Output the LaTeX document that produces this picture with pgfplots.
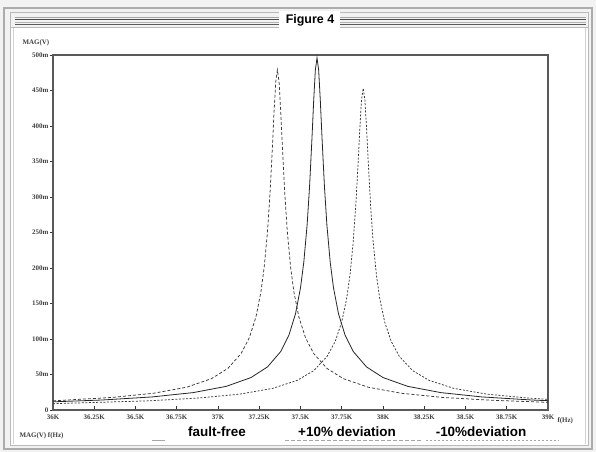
\documentclass[border=0pt]{standalone}
\usepackage{fontspec}
\setmainfont{Liberation Sans}
\newfontfamily\tickfont{Liberation Serif}
\usepackage{pgfplots}
\pgfplotsset{compat=1.18}
\pgfplotstableread{
f v
36000 11.5
36300 14.1
36600 18.4
36850 24.5
37050 33.3
37200 45.7
37300 60.7
37380 82.3
37430 105.5
37470 135.8
37500 172.1
37520 208.2
37540 260.4
37555 315.0
37570 385.3
37580 436.3
37590 478.8
37600 496
37610 478.8
37620 436.3
37630 385.3
37645 315.0
37660 260.4
37680 208.2
37700 172.1
37730 135.8
37770 105.5
37820 82.3
37900 60.7
38000 45.7
38150 33.3
38350 24.5
38600 18.4
38900 14.1
39000 13.1
}\faultfree
\pgfplotstableread{
f v
36000 13.0
36060 13.7
36360 17.7
36610 23.6
36810 32.1
36960 44.1
37060 58.6
37140 79.5
37190 101.9
37230 131.1
37260 166.2
37280 201.1
37300 251.4
37315 304.2
37330 372.1
37340 421.4
37350 462.4
37360 479
37370 462.4
37380 421.4
37390 372.1
37405 304.2
37420 251.4
37440 201.1
37460 166.2
37490 131.1
37530 101.9
37580 79.5
37660 58.6
37760 44.1
37910 32.1
38110 23.6
38360 17.7
38660 13.7
39000 10.8
}\plusten
\pgfplotstableread{
f v
36000 8.9
36580 12.9
36880 16.8
37130 22.3
37330 30.4
37480 41.7
37580 55.4
37660 75.2
37710 96.4
37750 124.0
37780 157.2
37800 190.2
37820 237.8
37835 287.7
37850 351.9
37860 398.5
37870 437.3
37880 453
37890 437.3
37900 398.5
37910 351.9
37925 287.7
37940 237.8
37960 190.2
37980 157.2
38010 124.0
38050 96.4
38100 75.2
38180 55.4
38280 41.7
38430 30.4
38630 22.3
38880 16.8
39000 15.0
}\minusten
\begin{document}
\begin{tikzpicture}[x=1bp,y=1bp]
% background and window frame
\fill[gray!10] (0,0) rectangle (596,452);
\fill[white] (11,6) rectangle (588,425);
\draw[gray!65, line width=2bp] (4,3) rectangle (592,444);
\draw[gray!55, line width=1bp] (10,6) rectangle (588,439);
\draw[gray!35, line width=0.8bp] (13,8) -- (13,425);
\draw[gray!35, line width=0.8bp] (585,8) -- (585,425);
% title stripes
\foreach \yy/\cc in {434.5/gray!70, 432/black!70, 429.5/gray!60, 427/black!65}{
  \draw[\cc, line width=1bp] (15,\yy) -- (586,\yy);
}
\draw[gray!55, line width=0.8bp] (11,425) -- (588,425);
\fill[white] (279,424) rectangle (340,441);
\node[font=\fontsize{12.5}{14}\selectfont\bfseries] at (310,432) {Figure 4};
\begin{axis}[
  at={(53bp,42bp)}, anchor=south west,
  scale only axis, width=495bp, height=355bp,
  xmin=36000, xmax=39000, ymin=0, ymax=500,
  xtick={36000,36250,36500,36750,37000,37250,37500,37750,38000,38250,38500,38750,39000},
  xticklabels={36K,36.25K,36.5K,36.75K,37K,37.25K,37.5K,37.75K,38K,38.25K,38.5K,38.75K,39K},
  ytick={0,50,100,150,200,250,300,350,400,450,500},
  yticklabels={0,50m,100m,150m,200m,250m,300m,350m,400m,450m,500m},
  scaled x ticks=false, scaled y ticks=false,
  tick pos=left, tick align=inside,
  major tick length=3.5bp,
  ytick style={xshift=-3.5bp},
  tick style={black!80, line width=0.8bp},
  ticklabel style={font=\tickfont\fontsize{7}{8}\selectfont\bfseries, text=black!75},
  xticklabel style={yshift=-1.5bp},
  yticklabel style={xshift=-1bp},
  axis line style={gray!70!black, line width=1.1bp},
  clip=false,
]
\addplot[black!85, line width=0.8bp] table[x=f,y=v] {\faultfree};
\addplot[gray!45!black, line width=0.75bp, dash pattern=on 3bp off 2bp] table[x=f,y=v] {\plusten};
\addplot[gray!45!black, line width=0.75bp, dash pattern=on 2bp off 1.6bp] table[x=f,y=v] {\minusten};
\end{axis}
% axis annotations
\node[font=\tickfont\fontsize{7}{8}\selectfont\bfseries, text=black!75, anchor=west] at (19,409) {MAG(V)};
\node[font=\tickfont\fontsize{7}{8}\selectfont\bfseries, text=black!75, anchor=west] at (554,31) {f(Hz)};
\node[font=\tickfont\fontsize{7}{8}\selectfont\bfseries, text=black!75, anchor=west] at (16,16) {MAG(V) f(Hz)};
% legend
\draw[gray!70, line width=0.7bp] (152,12) -- (165,12);
\draw[gray!70, line width=0.7bp, dash pattern=on 4bp off 2bp] (285,12) -- (422,12);
\draw[gray!70, line width=0.7bp, dash pattern=on 2bp off 2bp] (426,12) -- (559,12);
\node[font=\fontsize{13.5}{15}\selectfont\bfseries] at (217,20) {fault-free};
\node[font=\fontsize{13.5}{15}\selectfont\bfseries] at (347,20) {+10\% deviation};
\node[font=\fontsize{13.5}{15}\selectfont\bfseries] at (481,20) {-10\%deviation};
\end{tikzpicture}
\end{document}
